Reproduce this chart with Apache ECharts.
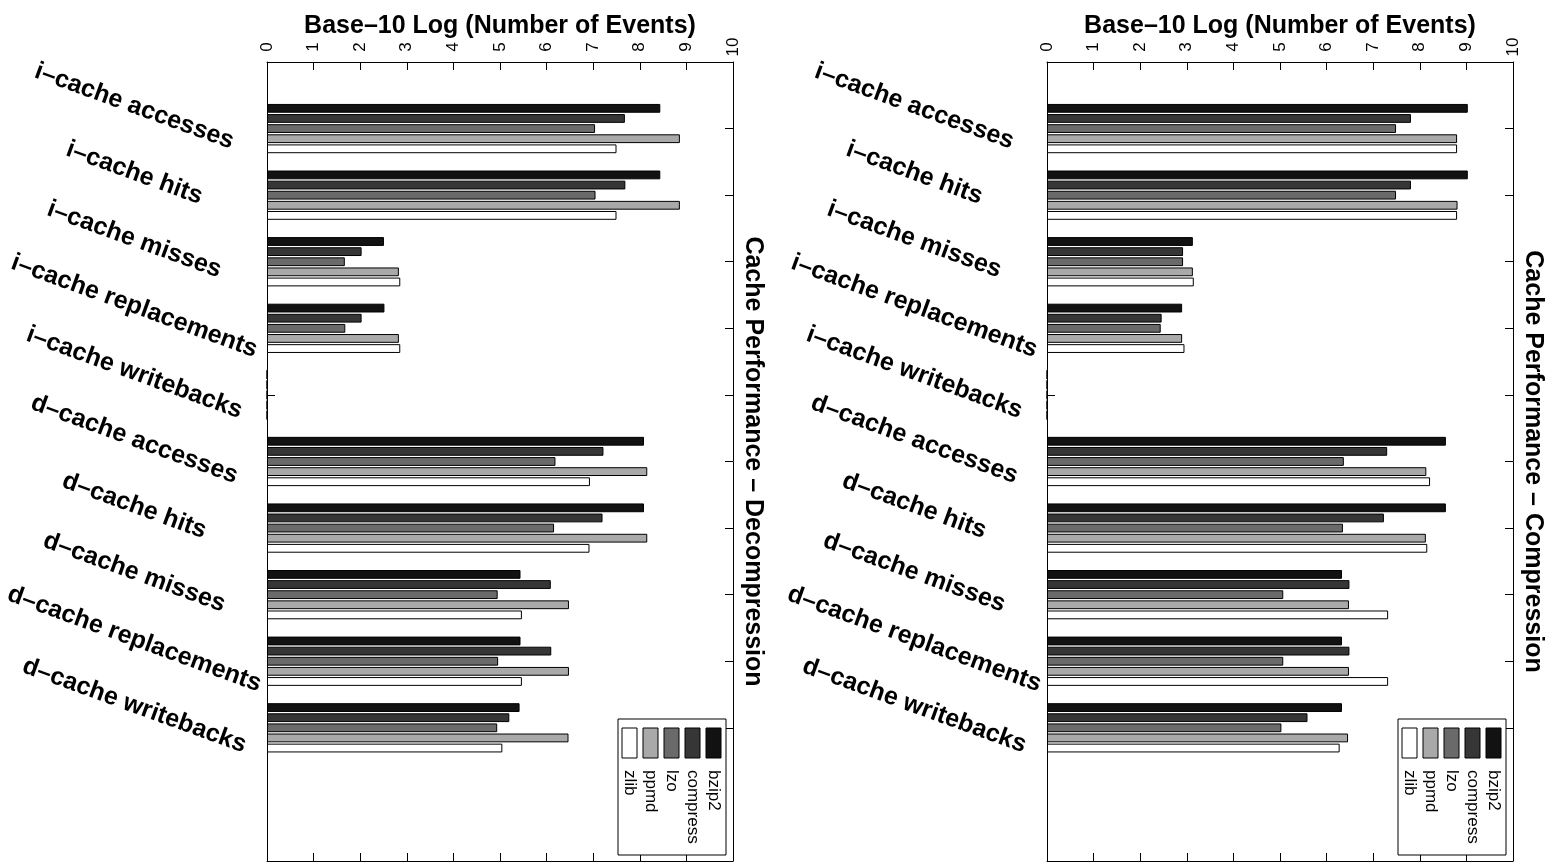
<!DOCTYPE html>
<html>
<head>
<meta charset="utf-8">
<script src="https://cdn.jsdelivr.net/npm/echarts@6/dist/echarts.min.js"></script>
<style>
  html, body { margin: 0; padding: 0; background: #fff; }
  #chart { width: 1556px; height: 862px; }
</style>
</head>
<body>
<div id="chart"></div>
<script>
// ---------------- data ----------------
const categories = [
  'i–cache accesses', 'i–cache hits', 'i–cache misses', 'i–cache replacements', 'i–cache writebacks',
  'd–cache accesses', 'd–cache hits', 'd–cache misses', 'd–cache replacements', 'd–cache writebacks'
];
const seriesNames = ['bzip2', 'compress', 'lzo', 'ppmd', 'zlib'];
const valueTicks = ['0', '1', '2', '3', '4', '5', '6', '7', '8', '9', '10'];

// Cache Performance – Decompression (left panel)
const decompBzip2    = [8.44, 8.44, 2.51, 2.52, 0, 8.09, 8.09, 5.44, 5.44, 5.42];
const decompCompress = [7.68, 7.69, 2.03, 2.03, 0, 7.22, 7.20, 6.09, 6.10, 5.20];
const decompLzo      = [7.04, 7.05, 1.67, 1.68, 0, 6.19, 6.16, 4.95, 4.96, 4.94];
const decompPpmd     = [8.86, 8.86, 2.83, 2.83, 0, 8.16, 8.16, 6.48, 6.48, 6.47];
const decompZlib     = [7.50, 7.50, 2.86, 2.86, 0, 6.93, 6.92, 5.47, 5.47, 5.05];

// Cache Performance – Compression (right panel)
const compBzip2    = [9.03, 9.03, 3.13, 2.90, 0, 8.56, 8.56, 6.33, 6.33, 6.33];
const compCompress = [7.81, 7.81, 2.92, 2.46, 0, 7.30, 7.23, 6.49, 6.49, 5.59];
const compLzo      = [7.49, 7.49, 2.92, 2.44, 0, 6.37, 6.35, 5.07, 5.07, 5.03];
const compPpmd     = [8.80, 8.81, 3.13, 2.90, 0, 8.14, 8.13, 6.48, 6.48, 6.46];
const compZlib     = [8.80, 8.80, 3.15, 2.95, 0, 8.22, 8.16, 7.32, 7.32, 6.28];

const panelTitles = ['Cache Performance – Decompression', 'Cache Performance – Compression'];
const valueAxisTitle = 'Base–10 Log (Number of Events)';

// ---------------- styling ----------------
const FONT = "'Liberation Sans', Arial, Helvetica, sans-serif";
const barColors = ['#121212', '#363636', '#6a6a6a', '#a9a9a9', '#ffffff'];
const panels = [
  { left: 267, values: [decompBzip2, decompCompress, decompLzo, decompPpmd, decompZlib] },
  { left: 1047, values: [compBzip2, compCompress, compLzo, compPpmd, compZlib] }
];
const GRID_TOP = 62, GRID_W = 466, GRID_H = 806;

// category axis: padding slots so categories sit at 1..10 on a 0..12 range
const catData = [''].concat(categories, ['', '']);
const isRealCat = (i) => i >= 1 && i <= categories.length;

const grids = [], xAxes = [], yAxes = [], series = [], graphics = [];

panels.forEach((p, gi) => {
  grids.push({ left: p.left, top: GRID_TOP, width: GRID_W, height: GRID_H, show: false });

  const valueAxisBase = {
    type: 'value', gridIndex: gi, min: 0, max: 10, interval: 1,
    splitLine: { show: false },
    axisLine: { show: true, onZero: false, lineStyle: { color: '#000', width: 1 } },
    axisTick: { show: true, inside: true, length: 8, lineStyle: { color: '#000' } }
  };
  xAxes.push(Object.assign({}, valueAxisBase, {
    position: 'top',
    name: valueAxisTitle, nameLocation: 'middle', nameGap: 23, nameMoveOverlap: false,
    nameTextStyle: { fontFamily: FONT, fontSize: 25, fontWeight: 'bold', color: '#000' },
    axisLabel: {
      show: true, rotate: -90, align: 'center', verticalAlign: 'middle', margin: 15,
      fontFamily: FONT, fontSize: 17, color: '#000',
      formatter: (v) => valueTicks[Math.round(v)]
    }
  }));
  xAxes.push(Object.assign({}, valueAxisBase, {
    position: 'bottom', axisLabel: { show: false }
  }));

  const catAxisBase = {
    type: 'category', gridIndex: gi, data: catData, inverse: true, boundaryGap: false,
    axisLine: { show: true, onZero: false, lineStyle: { color: '#000', width: 1 } },
    axisTick: { show: true, inside: true, length: 8, interval: (i) => isRealCat(i), lineStyle: { color: '#000' } },
    splitLine: { show: false }
  };
  yAxes.push(Object.assign({}, catAxisBase, {
    position: 'left',
    axisLabel: {
      show: true, interval: 0, rotate: -20, align: 'center', verticalAlign: 'bottom',
      margin: 129, padding: [0, 22, 7, 0],
      fontFamily: FONT, fontSize: 25, fontWeight: 'bold', color: '#000'
    }
  }));
  yAxes.push(Object.assign({}, catAxisBase, {
    position: 'right',
    axisLabel: { show: false },
    name: panelTitles[gi], nameLocation: 'middle', nameRotate: -90, nameGap: 7, nameMoveOverlap: false,
    nameTextStyle: { fontFamily: FONT, fontSize: 25, fontWeight: 'bold', color: '#000' }
  }));

  seriesNames.forEach((name, si) => {
    series.push({
      type: 'bar', name: name,
      xAxisIndex: gi * 2, yAxisIndex: gi * 2,
      data: [null].concat(p.values[si], [null, null]),
      barCategoryGap: '26%', barGap: '15%',
      itemStyle: { color: barColors[si], borderColor: '#000', borderWidth: 1 },
      emphasis: { disabled: true },
      animation: false
    });
  });

  const lx = p.left + 351, ly = 719;
  graphics.push({
    type: 'rect', z: 100,
    shape: { x: lx, y: ly, width: 108, height: 136 },
    style: { fill: '#fff', stroke: '#000', lineWidth: 1 }
  });
  seriesNames.forEach((name, si) => {
    const sx = lx + 88 - si * 21;
    graphics.push({
      type: 'rect', z: 101,
      shape: { x: sx, y: ly + 9, width: 15, height: 30 },
      style: { fill: barColors[si], stroke: '#000', lineWidth: 1 }
    });
    graphics.push({
      type: 'text', z: 101, x: sx + 7.5, y: ly + 51, rotation: -Math.PI / 2,
      style: { text: name, fontFamily: FONT, fontSize: 17, fill: '#000', align: 'left', verticalAlign: 'middle' }
    });
  });
});

const chart = echarts.init(document.getElementById('chart'), null, { renderer: 'canvas' });
chart.setOption({
  animation: false,
  backgroundColor: '#fff',
  grid: grids,
  xAxis: xAxes,
  yAxis: yAxes,
  series: series,
  graphic: graphics,
  tooltip: { show: false }
});
</script>
</body>
</html>
